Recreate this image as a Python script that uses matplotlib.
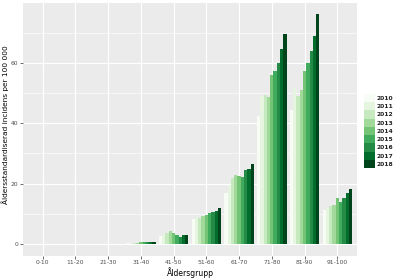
import matplotlib
matplotlib.use("Agg")
import matplotlib.pyplot as plt
from matplotlib.patches import Patch
import numpy as np

age_groups = ["0-10", "11-20", "21-30", "31-40", "41-50", "51-60", "61-70", "71-80", "81-90", "91-100"]
years = ["2010", "2011", "2012", "2013", "2014", "2015", "2016", "2017", "2018"]

# values[group][year]
values = [
    [0.0, 0.0, 0.0, 0.0, 0.0, 0.0, 0.0, 0.0, 0.0],
    [0.0, 0.0, 0.0, 0.0, 0.0, 0.0, 0.0, 0.0, 0.0],
    [0.05, 0.05, 0.05, 0.05, 0.05, 0.05, 0.05, 0.05, 0.05],
    [0.3, 0.4, 0.5, 0.5, 0.6, 0.7, 0.7, 0.8, 0.8],
    [2.7, 3.2, 3.7, 4.3, 3.8, 3.0, 2.4, 3.0, 3.0],
    [8.3, 9.1, 8.5, 9.3, 9.6, 10.2, 10.6, 10.9, 11.8],
    [16.8, 19.4, 21.8, 22.9, 22.6, 22.3, 24.5, 24.9, 26.4],
    [42.5, 48.9, 49.4, 48.6, 56.0, 57.2, 60.1, 64.6, 69.7],
    [44.4, 51.6, 49.1, 51.1, 57.2, 60.0, 64.0, 69.0, 76.0],
    [11.3, 12.0, 12.7, 12.9, 15.1, 13.8, 15.4, 17.0, 18.1],
]

colors = ["#F7FCF5", "#E5F5E0", "#C7E9C0", "#A1D99B", "#74C476",
          "#41AB5D", "#238B45", "#006D2C", "#00441B"]

fig = plt.figure(figsize=(4.02, 2.8), dpi=100)
ax = fig.add_axes([23/402, 1-255.5/280, (357-23)/402, (255.5-3)/280])
ax.set_facecolor("#EBEBEB")

vals = np.array(values)
n = len(years)
w = 0.9 / n
x = np.arange(1, len(age_groups) + 1)
for j in range(n):
    ax.bar(x + (j - (n - 1) / 2) * w, vals[:, j], width=w, color=colors[j],
           linewidth=0, zorder=3)

ax.set_xlim(0.4, len(age_groups) + 0.6)
ax.set_ylim(-3.8, 79.8)
ax.set_yticks([0, 20, 40, 60])
ax.set_yticks([10, 30, 50, 70], minor=True)
ax.set_xticks(x)
ax.set_xticklabels(age_groups)
ax.grid(which="major", color="white", linewidth=0.8, zorder=0)
ax.grid(which="minor", axis="y", color="white", linewidth=0.4, zorder=0)
ax.set_axisbelow(True)
for s in ax.spines.values():
    s.set_visible(False)
ax.tick_params(axis="both", which="major", length=2, width=0.5, color="#333333",
               labelsize=4.3, labelcolor="#4D4D4D", pad=1.5)
ax.tick_params(axis="both", which="minor", length=0)
ax.set_xlabel("Åldersgrupp", fontsize=5.5, labelpad=1.5, color="black")
ax.set_ylabel("Åldersstandardiserad incidens per 100 000", fontsize=5.3,
              color="black")
ax.yaxis.set_label_coords(-0.043, 0.52)

handles = [Patch(facecolor=c, edgecolor="none") for c in colors]
leg = fig.legend(handles, years, loc="center left",
                 bbox_to_anchor=(364/402, 1-131/280), frameon=False,
                 fontsize=4.3, handlelength=1.8, handleheight=1.75,
                 labelspacing=0.0, handletextpad=0.3, borderpad=0, borderaxespad=0)
for t in leg.get_texts():
    t.set_fontweight("bold")
    t.set_color("#222222")

fig.savefig("out.png", dpi=100)
